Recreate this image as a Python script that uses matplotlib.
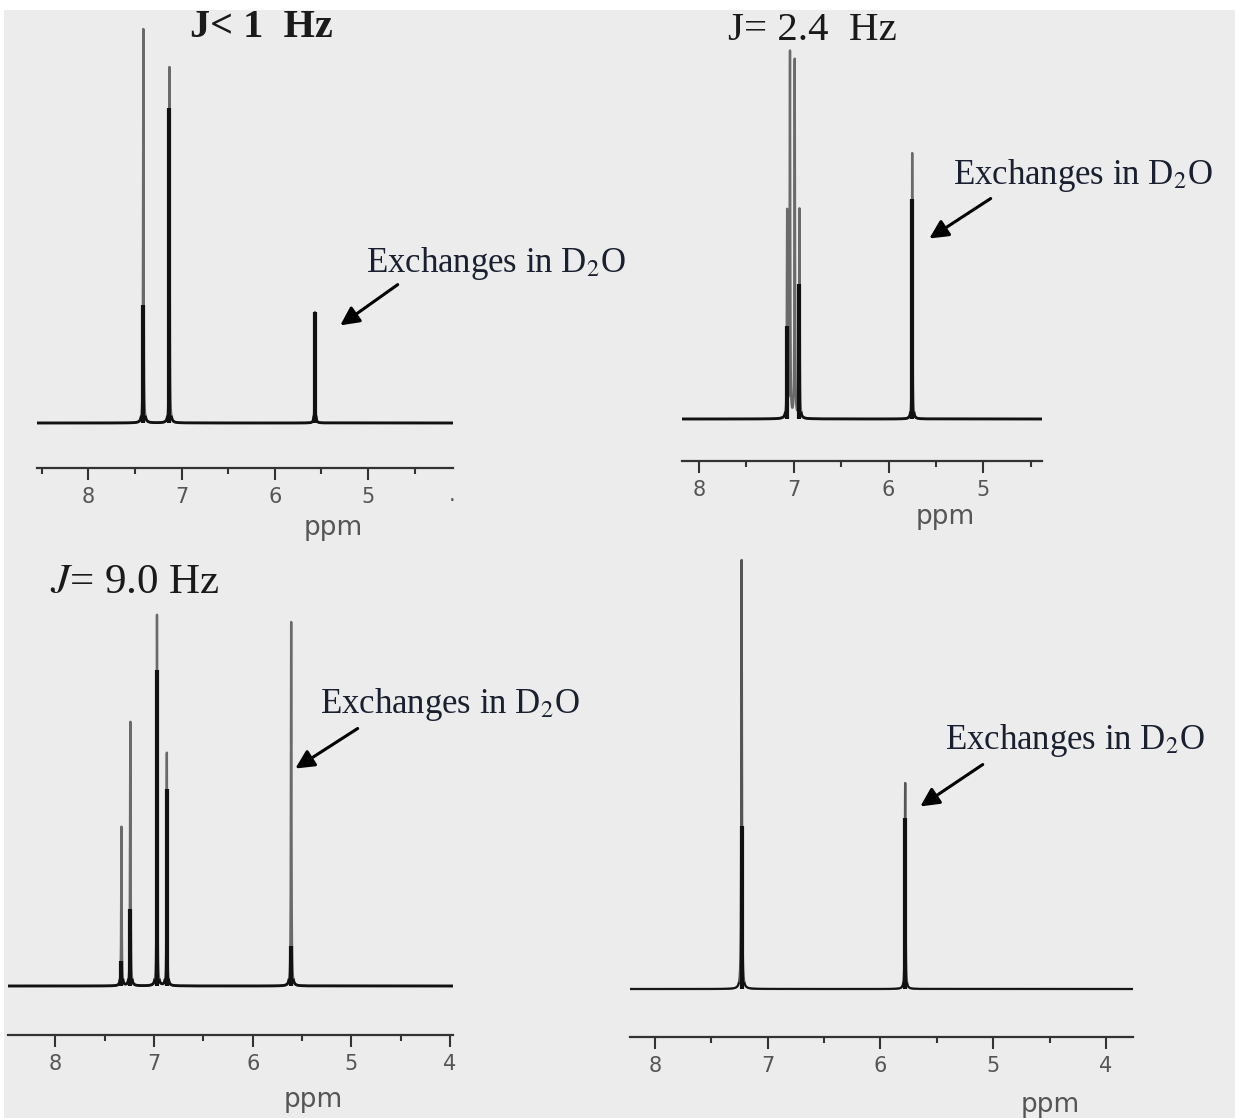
import numpy as np
import matplotlib
matplotlib.use("Agg")
import matplotlib.pyplot as plt
from matplotlib.patches import Rectangle, FancyArrowPatch
from matplotlib.ticker import FixedLocator, NullFormatter

plt.rcParams['mathtext.fontset'] = 'stix'

# ---------------- data (ppm, intensities) ----------------
p1_shift = [7.41, 7.13, 5.57]
p1_height = [394, 356, 111]
p1_dark = [118, 315, 111]

p2_shift = [7.07, 7.04, 6.99, 6.94, 5.75]
p2_height = [206, 365, 358, 209, 266]
p2_dark = [93, 0, 0, 135, 220]

p3_shift = [7.33, 7.24, 6.97, 6.87, 5.61]
p3_height = [159, 264, 371, 233, 364]
p3_dark = [25, 77, 316, 197, 40]

p4_shift = [7.23, 5.78]
p4_height = [429, 206]
p4_dark = [163, 171]

p1_title = "J< 1  Hz"
p2_title = "J= 2.4  Hz"
p3_title = "$J$= 9.0 Hz"
note = "Exchanges in D$_2$O"

W, H = 1235, 1118
fig = plt.figure(figsize=(W / 100, H / 100), dpi=100, facecolor='#ececec')
fig.patches.append(Rectangle((0, 1 - 10 / H), 1, 10 / H, transform=fig.transFigure,
                             facecolor='white', edgecolor='none', zorder=-10))
fig.patches.append(Rectangle((0, 0), 4 / W, 1, transform=fig.transFigure,
                             facecolor='white', edgecolor='none', zorder=-10))


def fx(x):
    return x / W


def fy(y):
    return 1 - y / H


def panel(left, right, axis_y, base_y, top_y, xlim, shifts, heights, darks,
          majors, minors, width=0.003, lw_base=2.0, top_color='#6a6a6a'):
    ax = fig.add_axes([fx(left), fy(axis_y), fx(right) - fx(left), (axis_y - top_y) / H])
    ax.set_facecolor('none')
    ax.set_zorder(2)
    ax.set_xlim(*xlim)
    ax.set_ylim(-(axis_y - base_y), base_y - top_y)
    x = np.union1d(np.linspace(xlim[1], xlim[0], 40000), np.array(shifts))
    y = np.zeros_like(x)
    for s, h in zip(shifts, heights):
        y += h / (1 + ((x - s) / width) ** 2)
    ax.plot(x, y, color=top_color, lw=1.7, zorder=2)
    ax.plot(x, np.where(y <= 6, y, np.nan), color='#111111', lw=lw_base, zorder=3)
    ax.vlines(shifts, 0, darks, color='#111111', lw=3.0, zorder=4, capstyle='butt')
    for sp in ['top', 'left', 'right']:
        ax.spines[sp].set_visible(False)
    ax.spines['bottom'].set_color('#333333')
    ax.spines['bottom'].set_linewidth(1.6)
    ax.set_yticks([])
    ax.xaxis.set_major_locator(FixedLocator(majors))
    ax.xaxis.set_minor_locator(FixedLocator(minors))
    ax.xaxis.set_minor_formatter(NullFormatter())
    ax.set_xticklabels([str(m) for m in majors])
    ax.tick_params(axis='x', which='major', length=8.5, width=1.5, color='#333333',
                   labelsize=15, labelcolor='#555555', pad=5)
    ax.tick_params(axis='x', which='minor', length=4, width=1.5, color='#333333')
    return ax


panel(37, 453, 468, 423, 12, (8.55, 4.09), p1_shift, p1_height, p1_dark,
      [8, 7, 6, 5], [8.5, 7.5, 6.5, 5.5, 4.5])
panel(682, 1042, 461, 419, 12, (8.18, 4.38), p2_shift, p2_height, p2_dark,
      [8, 7, 6, 5], [7.5, 6.5, 5.5, 4.5])
panel(8, 453, 1035, 986, 545, (8.48, 3.97), p3_shift, p3_height, p3_dark,
      [8, 7, 6, 5, 4], [7.5, 6.5, 5.5, 4.5])
panel(630, 1133, 1037, 989, 545, (8.22, 3.76), p4_shift, p4_height, p4_dark,
      [8, 7, 6, 5, 4], [7.5, 6.5, 5.5, 4.5], lw_base=1.3, top_color='#555555')

# truncated tick label at the right end of panel 1
fig.text(fx(452), fy(495), ".", ha='center', va='center', fontsize=15, color='#555555')

# ppm labels
for px, py in [(333, 528), (945, 517), (313, 1100), (1050, 1105)]:
    fig.text(fx(px), fy(py), "ppm", ha='center', va='center', fontsize=19, color='#555555')

serif = ['Liberation Serif', 'DejaVu Serif']
fig.text(fx(190), fy(37), p1_title, ha='left', va='baseline', fontsize=29,
         family=serif, fontweight='bold', color='#1a1a1a')
fig.text(fx(728), fy(40), p2_title, ha='left', va='baseline', fontsize=29.5,
         family=serif, color='#1a1a1a')
fig.text(fx(50), fy(593), p3_title, ha='left', va='baseline', fontsize=31,
         family=serif, color='#1a1a1a')

notes = [((366, 272), (400, 283), (338, 327)),
         ((953, 184), (993, 197), (927, 240)),
         ((320, 713), (360, 727), (293, 770)),
         ((945, 749), (985, 763), (918, 808))]
for (tx, ty), (ax0, ay0), (ax1, ay1) in notes:
    fig.text(fx(tx), fy(ty), note, ha='left', va='baseline', fontsize=25,
             family=serif, color='#1a2030')
    fig.add_artist(FancyArrowPatch(
        (fx(ax0), fy(ay0)), (fx(ax1), fy(ay1)), transform=fig.transFigure,
        arrowstyle='-|>', mutation_scale=28, lw=2.2, color='black'))

fig.savefig("out.png", dpi=100, facecolor=fig.get_facecolor())
